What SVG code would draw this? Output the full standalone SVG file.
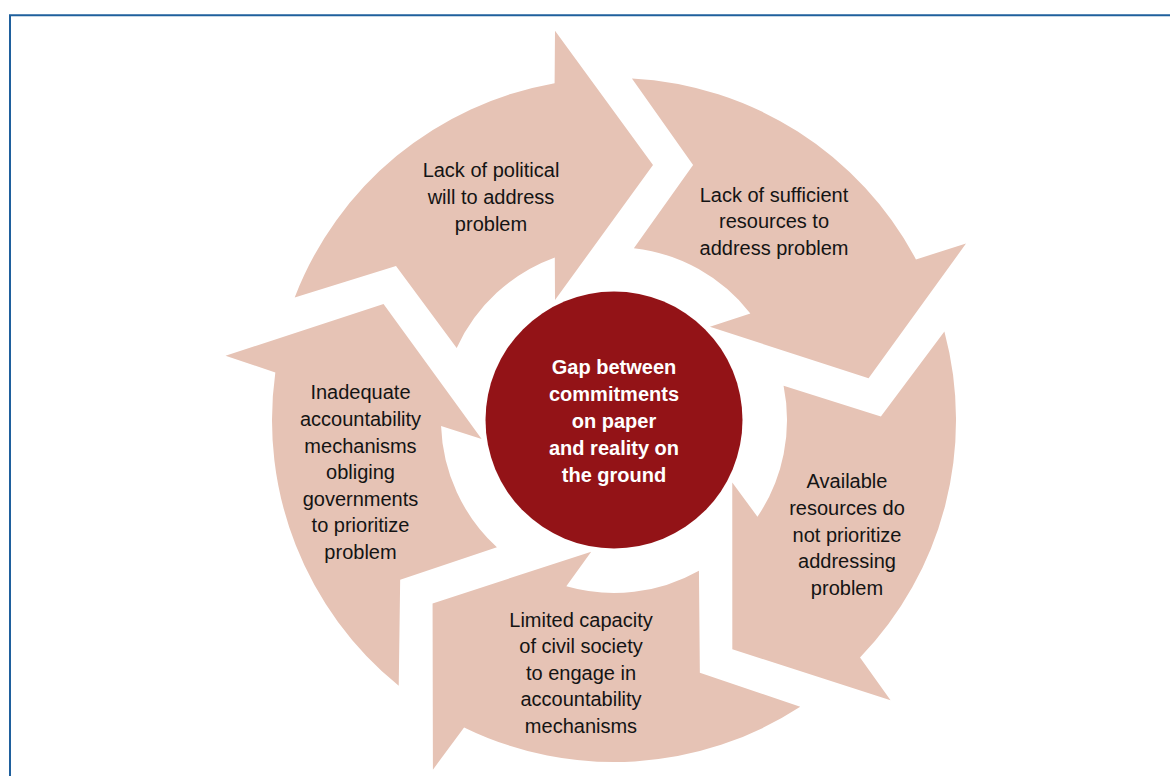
<svg xmlns="http://www.w3.org/2000/svg" xmlns:xlink="http://www.w3.org/1999/xlink" width="1170" height="776" viewBox="0 0 1170 776">
<style>
.arrow{fill:#E6C3B5}
.lbl{font-family:"Liberation Sans",Arial,sans-serif;font-size:20px;fill:#141414;text-anchor:middle}
.ctr{font-family:"Liberation Sans",Arial,sans-serif;font-size:20px;font-weight:bold;fill:#ffffff;text-anchor:middle}
.frame{fill:none;stroke:#1F609D;stroke-width:2}
</style>
<defs>
<path id="arr" d="M 294.7,297.4 A 342 342 0 0 1 554.6,83.2 L 555,30.7 L 653,165 L 555,300 L 554.8,257.4 A 173 173 0 0 0 456.7,348 L 396,266 Z"/>
</defs>
<rect width="1170" height="776" fill="#ffffff"/>
<path class="frame" d="M 10,776 L 10,15.3 L 1170,15.3"/>
<g id="connectors"></g>
<g id="node-political-will">
<use xlink:href="#arr" href="#arr" class="arrow"/>
<text class="lbl" x="491" y="177.3">Lack of political</text>
<text class="lbl" x="491" y="204">will to address</text>
<text class="lbl" x="491" y="230.7">problem</text>
</g>
<g id="node-sufficient-resources">
<use xlink:href="#arr" href="#arr" class="arrow" transform="rotate(72 614 420)"/>
<text class="lbl" x="774" y="201.7">Lack of sufficient</text>
<text class="lbl" x="774" y="228.3">resources to</text>
<text class="lbl" x="774" y="255">address problem</text>
</g>
<g id="node-prioritize-resources">
<use xlink:href="#arr" href="#arr" class="arrow" transform="rotate(144 614 420)"/>
<text class="lbl" x="847" y="488.3">Available</text>
<text class="lbl" x="847" y="514.9">resources do</text>
<text class="lbl" x="847" y="541.5">not prioritize</text>
<text class="lbl" x="847" y="568.1">addressing</text>
<text class="lbl" x="847" y="594.7">problem</text>
</g>
<g id="node-civil-society">
<use xlink:href="#arr" href="#arr" class="arrow" transform="rotate(216 614 420)"/>
<text class="lbl" x="581" y="626.7">Limited capacity</text>
<text class="lbl" x="581" y="653.2">of civil society</text>
<text class="lbl" x="581" y="679.7">to engage in</text>
<text class="lbl" x="581" y="706.2">accountability</text>
<text class="lbl" x="581" y="732.7">mechanisms</text>
</g>
<g id="node-accountability">
<use xlink:href="#arr" href="#arr" class="arrow" transform="rotate(288 614 420)"/>
<text class="lbl" x="360.5" y="399.3">Inadequate</text>
<text class="lbl" x="360.5" y="426">accountability</text>
<text class="lbl" x="360.5" y="452.6">mechanisms</text>
<text class="lbl" x="360.5" y="479.2">obliging</text>
<text class="lbl" x="360.5" y="505.8">governments</text>
<text class="lbl" x="360.5" y="532.4">to prioritize</text>
<text class="lbl" x="360.5" y="559">problem</text>
</g>
<g id="node-center">
<circle cx="614" cy="420" r="128.5" fill="#931317"/>
<text class="ctr" x="614" y="374.3">Gap between</text>
<text class="ctr" x="614" y="401.2">commitments</text>
<text class="ctr" x="614" y="428">on paper</text>
<text class="ctr" x="614" y="454.9">and reality on</text>
<text class="ctr" x="614" y="481.7">the ground</text>
</g>
</svg>
